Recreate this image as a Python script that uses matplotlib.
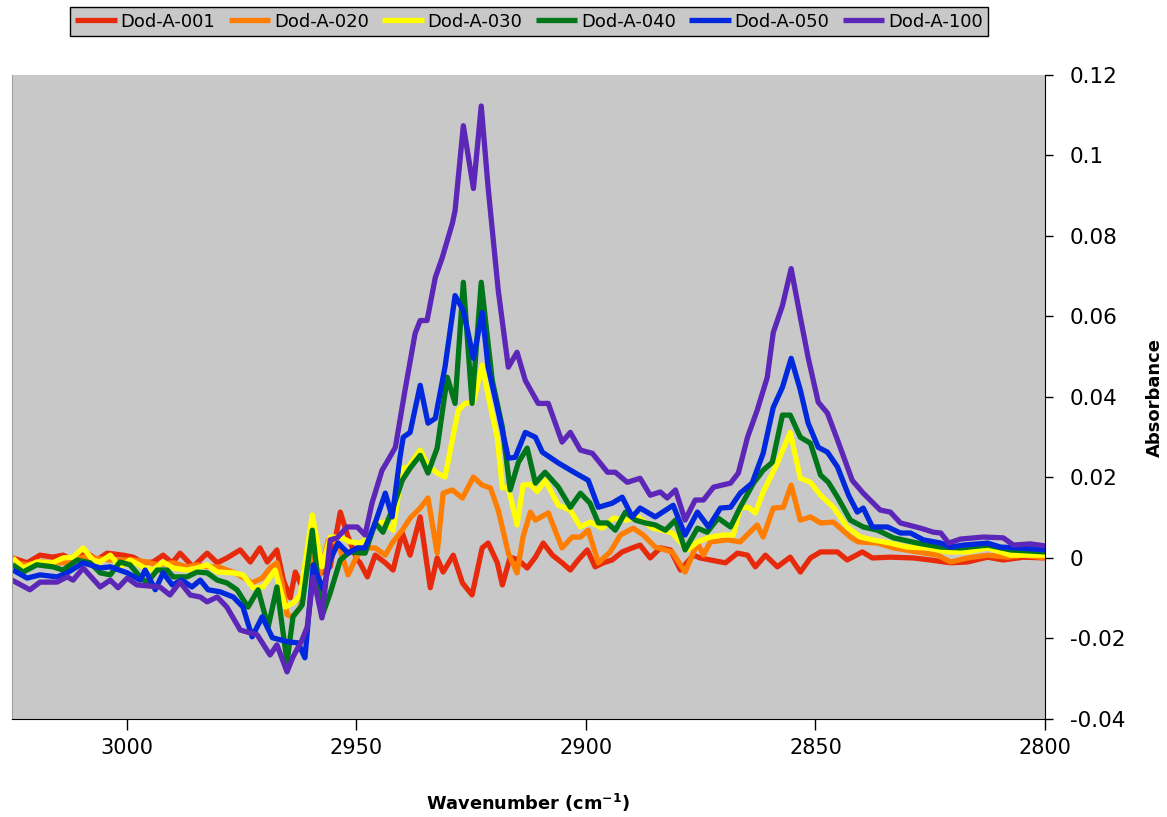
#!/usr/bin/env python3
# -*- coding: utf-8 -*-
import matplotlib
matplotlib.use("Agg")
import matplotlib.pyplot as plt

# wavenumber (cm-1) and absorbance, per sample
wn_001 = [3024.8, 3021.7, 3018.9, 3016.1, 3013.9, 3011.7, 3008.7, 3006.5, 3004.3, 3000.8,
          2998.6, 2996.5, 2994.3, 2992.1, 2990.1, 2988.4, 2985.6, 2982.5, 2980.3, 2978.2,
          2975.3, 2973.1, 2971.0, 2969.4, 2967.3, 2965.9, 2964.4, 2963.3, 2961.8, 2960.5,
          2958.5, 2957.2, 2955.7, 2953.5, 2951.8, 2949.8, 2949.2, 2947.6, 2945.9, 2943.7,
          2942.0, 2940.0, 2938.3, 2936.1, 2933.9, 2932.4, 2931.1, 2928.9, 2926.9, 2924.8,
          2922.6, 2921.3, 2919.3, 2918.2, 2916.5, 2914.7, 2912.8, 2911.0, 2909.3, 2907.3,
          2905.2, 2903.4, 2901.7, 2899.7, 2898.0, 2896.2, 2894.3, 2892.1, 2889.9, 2888.2,
          2886.0, 2883.8, 2881.6, 2879.4, 2876.6, 2875.1, 2872.9, 2869.6, 2867.0, 2864.8,
          2863.1, 2860.9, 2858.3, 2855.5, 2853.3, 2851.1, 2848.9, 2845.2, 2843.1, 2839.8,
          2837.6, 2833.7, 2828.7, 2825.0, 2820.6, 2816.9, 2812.5, 2809.1, 2804.7, 2800.0]
abs_001 = [0.0, -0.0012, 0.0007, 0.0002, 0.0007, -0.0005, 0.0012, -0.0005, 0.0012, 0.0007,
           0.0002, -0.0012, -0.0010, 0.0007, -0.0012, 0.0012, -0.0022, 0.0012, -0.0012, 0.0,
           0.0020, -0.0010, 0.0025, -0.0010, 0.0020, -0.0055, -0.0099, -0.0035, -0.0072, -0.0017,
           -0.0012, -0.0037, -0.0022, 0.0114, 0.0052, -0.0005, -0.0012, -0.0047, 0.0007, -0.0012,
           -0.0030, 0.0062, 0.0007, 0.0102, -0.0074, 0.0, -0.0035, 0.0007, -0.0062, -0.0092,
           0.0025, 0.0037, -0.0012, -0.0067, 0.0002, -0.0005, -0.0025, 0.0002, 0.0037, 0.0007,
           -0.0012, -0.0030, -0.0005, 0.0020, -0.0022, -0.0012, -0.0005, 0.0015, 0.0025, 0.0032,
           0.0, 0.0025, 0.0020, -0.0030, 0.0007, 0.0, -0.0005, -0.0012, 0.0012, 0.0007,
           -0.0022, 0.0007, -0.0022, 0.0002, -0.0035, 0.0, 0.0015, 0.0015, -0.0005, 0.0015,
           0.0, 0.0002, 0.0, -0.0005, -0.0012, -0.0010, 0.0002, -0.0005, 0.0002, 0.0]

wn_020 = [3024.8, 3021.7, 3018.9, 3015.2, 3013.0, 3009.5, 3007.4, 3003.6, 2998.6, 2995.6,
          2993.4, 2989.9, 2986.9, 2984.7, 2982.5, 2980.1, 2976.4, 2972.7, 2970.5, 2968.8,
          2967.3, 2966.2, 2965.1, 2964.0, 2962.2, 2960.1, 2958.3, 2956.1, 2954.0, 2951.8,
          2949.8, 2948.7, 2947.4, 2945.9, 2943.7, 2942.2, 2940.0, 2938.3, 2936.1, 2934.4,
          2932.4, 2931.1, 2929.1, 2926.9, 2924.5, 2922.6, 2920.8, 2919.1, 2916.9, 2915.0,
          2913.7, 2912.1, 2911.0, 2908.2, 2905.2, 2903.0, 2901.2, 2899.5, 2897.3, 2894.7,
          2892.5, 2889.7, 2887.5, 2884.9, 2881.2, 2878.4, 2875.7, 2874.4, 2872.9, 2869.2,
          2866.4, 2862.7, 2861.4, 2859.2, 2857.0, 2855.3, 2853.3, 2851.1, 2848.9, 2846.1,
          2842.4, 2840.7, 2836.5, 2833.0, 2827.8, 2823.4, 2820.6, 2816.9, 2812.5, 2808.2,
          2804.7, 2800.0]
abs_020 = [-0.0010, -0.0017, -0.0010, -0.0012, -0.0012, 0.0002, 0.0, -0.0005, -0.0005, -0.0010,
           -0.0017, -0.0012, -0.0022, -0.0017, -0.0022, -0.0022, -0.0037, -0.0062, -0.0050, -0.0025,
           -0.0012, -0.0062, -0.0141, -0.0146, -0.0124, 0.0012, -0.0055, 0.0045, 0.0037, -0.0042,
           0.0007, 0.0015, 0.0025, 0.0025, 0.0007, 0.0037, 0.0069, 0.0099, 0.0124, 0.0149,
           0.0012, 0.0161, 0.0169, 0.0149, 0.0201, 0.0181, 0.0174, 0.0119, 0.0012, -0.0037,
           0.0052, 0.0114, 0.0094, 0.0112, 0.0025, 0.0052, 0.0052, 0.0069, -0.0012, 0.0015,
           0.0057, 0.0074, 0.0057, 0.0027, 0.0015, -0.0035, 0.0037, 0.0007, 0.0040, 0.0045,
           0.0040, 0.0082, 0.0052, 0.0124, 0.0126, 0.0181, 0.0094, 0.0102, 0.0087, 0.0089,
           0.0052, 0.0040, 0.0037, 0.0025, 0.0015, 0.0007, -0.0010, 0.0, 0.0007, 0.0002,
           0.0007, 0.0]

wn_030 = [3024.8, 3022.6, 3019.6, 3016.1, 3013.9, 3011.7, 3009.5, 3007.4, 3005.8, 3003.6,
          3001.5, 2999.3, 2996.5, 2994.3, 2992.1, 2989.9, 2986.9, 2984.7, 2982.5, 2980.3,
          2976.8, 2974.7, 2972.5, 2970.3, 2967.7, 2965.5, 2963.8, 2962.2, 2959.6, 2957.5,
          2955.7, 2953.5, 2951.4, 2949.2, 2947.0, 2945.9, 2943.7, 2942.0, 2940.0, 2938.7,
          2936.1, 2934.4, 2932.4, 2930.7, 2929.1, 2927.8, 2926.3, 2924.5, 2922.6, 2921.3,
          2919.3, 2918.2, 2916.9, 2915.0, 2913.7, 2912.1, 2910.6, 2908.9, 2906.0, 2903.4,
          2901.2, 2899.1, 2896.4, 2894.0, 2891.4, 2888.6, 2885.5, 2883.4, 2881.2, 2877.9,
          2875.7, 2872.9, 2870.1, 2867.9, 2866.4, 2864.6, 2863.1, 2861.4, 2858.7, 2855.5,
          2853.3, 2851.1, 2848.9, 2846.1, 2843.1, 2840.2, 2837.6, 2833.7, 2830.0, 2825.6,
          2821.3, 2816.9, 2812.5, 2807.5, 2800.0]
abs_030 = [0.0, -0.0025, -0.0010, -0.0012, 0.0, 0.0002, 0.0025, -0.0005, -0.0010, 0.0007,
           -0.0022, -0.0005, -0.0022, -0.0030, -0.0010, -0.0025, -0.0030, -0.0025, -0.0017, -0.0035,
           -0.0037, -0.0042, -0.0074, -0.0072, -0.0030, -0.0122, -0.0112, -0.0092, 0.0107, -0.0022,
           0.0052, 0.0052, 0.0040, 0.0037, 0.0052, 0.0087, 0.0089, 0.0069, 0.0223, 0.0226,
           0.0268, 0.0231, 0.0211, 0.0201, 0.0293, 0.0367, 0.0384, 0.0387, 0.0479, 0.0404,
           0.0298, 0.0174, 0.0174, 0.0082, 0.0181, 0.0183, 0.0165, 0.0193, 0.0131, 0.0119,
           0.0077, 0.0089, 0.0074, 0.0099, 0.0094, 0.0102, 0.0074, 0.0069, 0.0062, 0.0020,
           0.0040, 0.0052, 0.0057, 0.0057, 0.0124, 0.0126, 0.0112, 0.0164, 0.0226, 0.0312,
           0.0198, 0.0188, 0.0156, 0.0126, 0.0077, 0.0052, 0.0045, 0.0037, 0.0027, 0.0025,
           0.0015, 0.0015, 0.0025, 0.0007, 0.0007]

wn_040 = [3024.8, 3022.6, 3019.6, 3016.1, 3013.9, 3010.8, 3008.0, 3005.8, 3003.6, 3001.5,
          2999.3, 2997.1, 2995.6, 2993.4, 2991.2, 2989.9, 2986.9, 2984.7, 2982.5, 2980.3,
          2978.2, 2976.0, 2973.6, 2971.4, 2969.2, 2967.3, 2965.1, 2963.8, 2961.8, 2959.6,
          2957.5, 2955.7, 2953.5, 2951.4, 2948.1, 2945.9, 2944.2, 2942.2, 2940.0, 2938.3,
          2936.1, 2934.4, 2932.4, 2930.2, 2928.5, 2926.7, 2924.8, 2922.8, 2920.4, 2918.2,
          2916.5, 2914.7, 2912.8, 2911.0, 2908.9, 2906.0, 2903.4, 2901.2, 2899.1, 2897.3,
          2895.3, 2893.6, 2891.4, 2889.2, 2887.1, 2884.9, 2882.7, 2880.5, 2878.4, 2875.7,
          2873.6, 2871.2, 2868.5, 2866.4, 2863.5, 2861.4, 2859.4, 2857.2, 2855.5, 2853.3,
          2851.1, 2848.9, 2847.2, 2845.2, 2842.4, 2839.6, 2836.5, 2833.0, 2827.8, 2822.7,
          2818.4, 2812.5, 2807.5, 2800.0]
abs_040 = [-0.0017, -0.0035, -0.0017, -0.0022, -0.0030, -0.0005, -0.0012, -0.0037, -0.0042, -0.0010,
           -0.0017, -0.0047, -0.0062, -0.0030, -0.0030, -0.0047, -0.0047, -0.0035, -0.0037, -0.0055,
           -0.0062, -0.0079, -0.0122, -0.0079, -0.0171, -0.0072, -0.0258, -0.0146, -0.0117, 0.0069,
           -0.0146, -0.0087, -0.0005, 0.0015, 0.0012, 0.0087, 0.0064, 0.0119, 0.0193, 0.0223,
           0.0255, 0.0211, 0.0273, 0.0449, 0.0384, 0.0685, 0.0384, 0.0685, 0.0441, 0.0325,
           0.0169, 0.0238, 0.0273, 0.0186, 0.0213, 0.0176, 0.0126, 0.0161, 0.0136, 0.0087,
           0.0087, 0.0069, 0.0114, 0.0094, 0.0087, 0.0082, 0.0069, 0.0094, 0.0020, 0.0074,
           0.0064, 0.0099, 0.0077, 0.0126, 0.0186, 0.0218, 0.0238, 0.0355, 0.0355, 0.0300,
           0.0285, 0.0206, 0.0188, 0.0151, 0.0094, 0.0077, 0.0069, 0.0050, 0.0037, 0.0027,
           0.0025, 0.0032, 0.0020, 0.0015]

wn_050 = [3024.8, 3021.7, 3018.9, 3015.2, 3013.0, 3009.5, 3005.8, 3003.6, 2999.9, 2997.1,
          2996.0, 2993.8, 2992.1, 2990.1, 2988.0, 2985.8, 2984.0, 2982.3, 2979.7, 2976.8,
          2974.7, 2972.7, 2970.5, 2968.3, 2965.1, 2962.7, 2961.2, 2959.4, 2957.2, 2955.7,
          2954.0, 2951.8, 2949.8, 2948.1, 2945.9, 2943.7, 2942.2, 2940.5, 2939.8, 2938.3,
          2936.1, 2934.4, 2932.8, 2930.7, 2928.5, 2926.7, 2924.5, 2922.6, 2921.3, 2919.3,
          2916.9, 2915.4, 2913.2, 2911.0, 2909.5, 2906.0, 2902.3, 2899.5, 2897.3, 2894.3,
          2892.1, 2889.9, 2888.2, 2884.9, 2881.0, 2878.4, 2875.7, 2873.3, 2870.7, 2868.5,
          2866.4, 2863.8, 2861.4, 2859.2, 2857.2, 2855.3, 2853.3, 2851.6, 2849.4, 2847.4,
          2845.2, 2842.8, 2840.9, 2839.6, 2837.6, 2834.3, 2831.5, 2829.3, 2826.5, 2822.7,
          2820.6, 2817.8, 2812.5, 2809.7, 2806.0, 2800.0]
abs_050 = [-0.0030, -0.0050, -0.0042, -0.0047, -0.0037, -0.0012, -0.0025, -0.0022, -0.0037, -0.0055,
           -0.0030, -0.0079, -0.0037, -0.0067, -0.0055, -0.0072, -0.0055, -0.0079, -0.0084, -0.0097,
           -0.0122, -0.0196, -0.0146, -0.0198, -0.0208, -0.0211, -0.0248, -0.0017, -0.0079, -0.0005,
           0.0037, 0.0012, 0.0025, 0.0025, 0.0087, 0.0161, 0.0102, 0.0250, 0.0300, 0.0312,
           0.0429, 0.0335, 0.0347, 0.0474, 0.0652, 0.0615, 0.0496, 0.0610, 0.0474, 0.0374,
           0.0248, 0.0250, 0.0312, 0.0300, 0.0263, 0.0236, 0.0211, 0.0193, 0.0126, 0.0136,
           0.0151, 0.0102, 0.0124, 0.0102, 0.0131, 0.0057, 0.0114, 0.0077, 0.0124, 0.0126,
           0.0161, 0.0186, 0.0260, 0.0374, 0.0424, 0.0496, 0.0417, 0.0335, 0.0275, 0.0263,
           0.0226, 0.0156, 0.0114, 0.0124, 0.0077, 0.0077, 0.0062, 0.0062, 0.0045, 0.0037,
           0.0027, 0.0032, 0.0037, 0.0027, 0.0025, 0.0020]

wn_100 = [3025.0, 3021.1, 3018.9, 3015.2, 3013.0, 3011.7, 3009.5, 3005.8, 3003.6, 3001.9,
          2999.9, 2997.8, 2992.8, 2990.6, 2988.4, 2986.2, 2984.0, 2982.5, 2980.3, 2978.2,
          2975.3, 2973.8, 2971.6, 2968.8, 2967.3, 2965.1, 2963.8, 2961.8, 2960.7, 2959.4,
          2957.5, 2955.7, 2954.2, 2952.0, 2949.8, 2948.1, 2946.6, 2944.4, 2943.1, 2941.5,
          2939.4, 2937.2, 2936.1, 2934.6, 2932.8, 2931.3, 2929.1, 2928.5, 2926.7, 2924.5,
          2922.8, 2921.3, 2919.1, 2916.9, 2915.0, 2913.2, 2910.4, 2908.2, 2905.2, 2903.4,
          2901.2, 2898.6, 2895.3, 2893.6, 2891.0, 2888.2, 2886.0, 2883.8, 2882.3, 2880.5,
          2878.4, 2876.2, 2874.4, 2872.2, 2868.5, 2866.8, 2864.8, 2862.7, 2860.5, 2859.2,
          2857.2, 2855.3, 2853.3, 2851.6, 2849.4, 2847.4, 2845.2, 2842.0, 2839.6, 2835.9,
          2833.7, 2831.5, 2827.1, 2824.3, 2822.7, 2821.0, 2818.4, 2813.4, 2809.1, 2806.9,
          2803.2, 2800.0]
abs_100 = [-0.0055, -0.0079, -0.0060, -0.0060, -0.0047, -0.0055, -0.0025, -0.0072, -0.0055, -0.0074,
           -0.0050, -0.0067, -0.0072, -0.0092, -0.0060, -0.0092, -0.0097, -0.0109, -0.0097, -0.0122,
           -0.0179, -0.0184, -0.0191, -0.0241, -0.0216, -0.0283, -0.0246, -0.0203, -0.0171, -0.0047,
           -0.0149, 0.0045, 0.0050, 0.0077, 0.0077, 0.0057, 0.0136, 0.0218, 0.0243, 0.0275,
           0.0417, 0.0558, 0.0590, 0.0590, 0.0697, 0.0746, 0.0831, 0.0863, 0.1074, 0.0918,
           0.1123, 0.0920, 0.0665, 0.0474, 0.0511, 0.0441, 0.0384, 0.0384, 0.0288, 0.0312,
           0.0268, 0.0260, 0.0213, 0.0213, 0.0188, 0.0198, 0.0156, 0.0164, 0.0149, 0.0169,
           0.0094, 0.0144, 0.0144, 0.0176, 0.0186, 0.0211, 0.0300, 0.0367, 0.0449, 0.0560,
           0.0627, 0.0719, 0.0598, 0.0498, 0.0387, 0.0360, 0.0293, 0.0193, 0.0161, 0.0119,
           0.0114, 0.0087, 0.0074, 0.0064, 0.0062, 0.0037, 0.0047, 0.0052, 0.0050, 0.0032,
           0.0035, 0.0030]

labels = ["Dod-A-001", "Dod-A-020", "Dod-A-030", "Dod-A-040", "Dod-A-050", "Dod-A-100"]
colors = ["#e82a0c", "#ff7d00", "#ffff00", "#00761a", "#0028dc", "#5c26b8"]
xticks = [3000, 2950, 2900, 2850, 2800]
yticks = [-0.04, -0.02, 0, 0.02, 0.04, 0.06, 0.08, 0.1, 0.12]
yticklabels = ["-0.04", "-0.02", "0", "0.02", "0.04", "0.06", "0.08", "0.1", "0.12"]

series = [(wn_001, abs_001), (wn_020, abs_020), (wn_030, abs_030),
          (wn_040, abs_040), (wn_050, abs_050), (wn_100, abs_100)]

plt.rcParams["font.family"] = ["DejaVu Sans"]

fig = plt.figure(figsize=(11.67, 8.17), dpi=100)
ax = fig.add_axes([0.0103, 0.120, 0.8852, 0.7882])
ax.set_facecolor("#c8c8c8")

for (wn, ab), lab, clr in zip(series, labels, colors):
    ax.plot(wn, ab, color=clr, lw=3.8, label=lab,
            solid_joinstyle="round", solid_capstyle="butt")

ax.set_xlim(3025, 2800)
ax.set_ylim(-0.04, 0.12)
ax.set_xticks(xticks)
ax.set_xticklabels([str(t) for t in xticks])
ax.set_yticks(yticks)
ax.set_yticklabels(yticklabels)
ax.yaxis.tick_right()
ax.tick_params(axis="x", direction="out", length=8, width=1, pad=6, labelsize=15)
ax.tick_params(axis="y", direction="out", length=6, width=1, pad=12, labelsize=15.5)

ax.spines["top"].set_visible(False)
ax.spines["left"].set_color("#a0a0a0")
ax.spines["right"].set_color("black")
ax.spines["bottom"].set_color("black")

fig.text(528 / 1167, 1 - 803 / 817, "Wavenumber (cm$^{\\mathbf{-1}}$)",
         ha="center", va="center", fontsize=12.8, fontweight="bold")
fig.text(1155 / 1167, 1 - 397 / 817, "Absorbance", rotation=90,
         ha="center", va="center", fontsize=13, fontweight="bold")

leg = fig.legend(loc="upper center", bbox_to_anchor=(529 / 1167, 0.991), ncol=6,
                 fontsize=13, frameon=True, fancybox=False, handlelength=2.3,
                 handletextpad=0.2, columnspacing=0.75, borderpad=0.3,
                 borderaxespad=0.0)
leg.get_frame().set_facecolor("#c8c8c8")
leg.get_frame().set_edgecolor("black")
leg.get_frame().set_linewidth(1.0)
leg.get_frame().set_alpha(1.0)

fig.savefig("out.png", dpi=100)
